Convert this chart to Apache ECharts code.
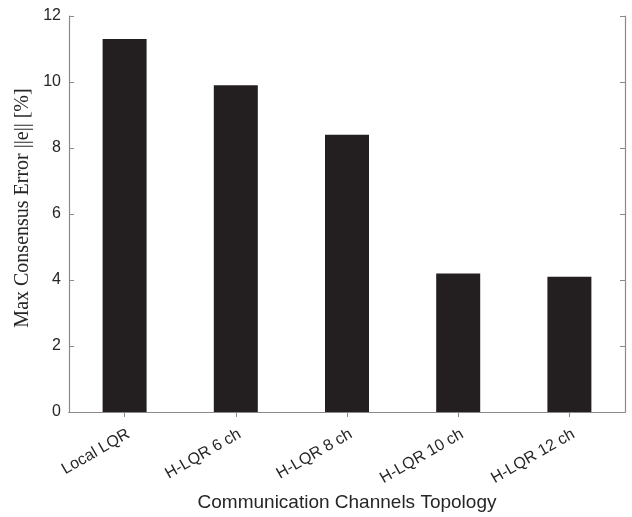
<!DOCTYPE html>
<html>
<head>
<meta charset="utf-8">
<script src="https://cdn.jsdelivr.net/npm/echarts@6/dist/echarts.min.js"></script>
<style>
  html, body { margin: 0; padding: 0; background: #fff; }
  #chart { width: 632px; height: 517px; }
</style>
</head>
<body>
<div id="chart"></div>
<script>
// Topologies compared and their maximum consensus error (%)
const categories = ['Local LQR', 'H-LQR 6 ch', 'H-LQR 8 ch', 'H-LQR 10 ch', 'H-LQR 12 ch'];
const maxError = [11.3, 9.9, 8.4, 4.2, 4.1];
const yTicks = { min: 0, max: 12, interval: 2 };

const boxColor = '#8a8a8a';
const textColor = '#262626';
const sans = 'Liberation Sans, Arial, sans-serif';

const chart = echarts.init(document.getElementById('chart'));

const tickStyle = { show: true, inside: true, length: 5, lineStyle: { color: boxColor, width: 1 } };

chart.setOption({
  animation: false,
  grid: { left: 69, right: 7, top: 16, bottom: 105, outerBoundsMode: 'none', containLabel: false },
  xAxis: [
    {
      type: 'category',
      data: categories,
      axisLine: { show: true, lineStyle: { color: boxColor, width: 1.2 } },
      axisTick: Object.assign({ alignWithLabel: true }, tickStyle),
      axisLabel: {
        rotate: 30,
        margin: 14,
        verticalAlign: 'top',
        color: textColor,
        fontFamily: sans,
        fontSize: 16
      },
      name: 'Communication Channels Topology',
      nameLocation: 'middle',
      nameGap: 81,
      nameTextStyle: { color: textColor, fontFamily: sans, fontSize: 19 }
    },
    {
      type: 'category',
      data: categories,
      position: 'top',
      axisLine: { show: true, lineStyle: { color: boxColor, width: 1.2 } },
      axisTick: Object.assign({ alignWithLabel: true }, tickStyle),
      axisLabel: { show: false }
    }
  ],
  yAxis: [
    {
      type: 'value',
      min: yTicks.min,
      max: yTicks.max,
      interval: yTicks.interval,
      splitLine: { show: false },
      axisLine: { show: true, lineStyle: { color: boxColor, width: 1.2 } },
      axisTick: tickStyle,
      axisLabel: {
        margin: 8,
        color: textColor,
        fontFamily: sans,
        fontSize: 16
      },
      name: 'Max Consensus Error ||e|| [%]',
      nameLocation: 'middle',
      nameGap: 36,
      nameTextStyle: {
        color: textColor,
        fontFamily: 'Liberation Serif, Times New Roman, serif',
        fontSize: 20,
        padding: [0, 0, 0, 12]
      }
    },
    {
      type: 'value',
      position: 'right',
      min: yTicks.min,
      max: yTicks.max,
      interval: yTicks.interval,
      splitLine: { show: false },
      axisLine: { show: true, lineStyle: { color: boxColor, width: 1.2 } },
      axisTick: tickStyle,
      axisLabel: { show: false }
    }
  ],
  series: [
    {
      type: 'bar',
      xAxisIndex: 0,
      yAxisIndex: 0,
      data: maxError,
      barWidth: 44,
      itemStyle: { color: '#231f20' }
    }
  ]
});
</script>
</body>
</html>
